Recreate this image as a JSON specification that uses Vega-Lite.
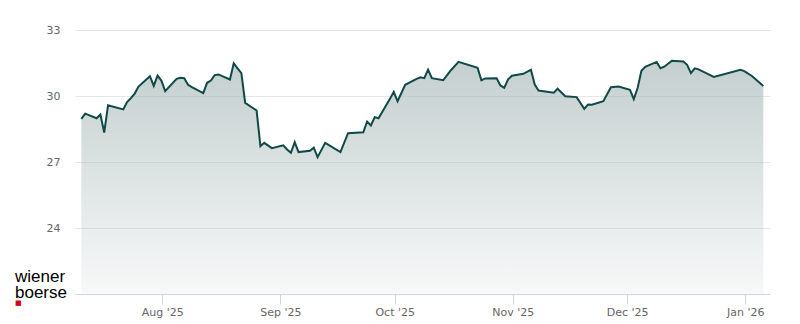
{
  "$schema": "https://vega.github.io/schema/vega-lite/v6.json",
  "width": 695,
  "height": 264,
  "autosize": {"type": "none"},
  "padding": {"left": 75, "top": 30, "right": 30, "bottom": 30},
  "background": "white",
  "config": {"view": {"stroke": null}, "font": "DejaVu Sans"},
  "title": {
    "text": ["wiener", "boerse"],
    "subtitle": "■",
    "orient": "bottom",
    "anchor": "start",
    "frame": "group",
    "dx": -60,
    "dy": 2,
    "offset": -50,
    "font": "Liberation Sans",
    "fontSize": 17,
    "fontWeight": "normal",
    "color": "#000000",
    "lineHeight": 16,
    "subtitleFont": "DejaVu Sans",
    "subtitleColor": "#d4001a",
    "subtitleFontSize": 7,
    "subtitlePadding": -3
  },
  "data": {
    "values": [
      {"date": "2025-07-10T18:00:00", "value": 28.96},
      {"date": "2025-07-11T18:00:00", "value": 29.20},
      {"date": "2025-07-14T18:00:00", "value": 28.99},
      {"date": "2025-07-15T18:00:00", "value": 29.16},
      {"date": "2025-07-16T18:00:00", "value": 28.34},
      {"date": "2025-07-17T18:00:00", "value": 29.58},
      {"date": "2025-07-21T18:00:00", "value": 29.39},
      {"date": "2025-07-22T18:00:00", "value": 29.72},
      {"date": "2025-07-23T18:00:00", "value": 29.90},
      {"date": "2025-07-24T18:00:00", "value": 30.11},
      {"date": "2025-07-25T18:00:00", "value": 30.43},
      {"date": "2025-07-28T18:00:00", "value": 30.90},
      {"date": "2025-07-29T18:00:00", "value": 30.46},
      {"date": "2025-07-30T18:00:00", "value": 30.93},
      {"date": "2025-07-31T18:00:00", "value": 30.70},
      {"date": "2025-08-01T18:00:00", "value": 30.22},
      {"date": "2025-08-04T18:00:00", "value": 30.78},
      {"date": "2025-08-05T18:00:00", "value": 30.83},
      {"date": "2025-08-06T18:00:00", "value": 30.81},
      {"date": "2025-08-07T18:00:00", "value": 30.51},
      {"date": "2025-08-08T18:00:00", "value": 30.40},
      {"date": "2025-08-11T18:00:00", "value": 30.13},
      {"date": "2025-08-12T18:00:00", "value": 30.60},
      {"date": "2025-08-13T18:00:00", "value": 30.70},
      {"date": "2025-08-14T18:00:00", "value": 30.95},
      {"date": "2025-08-15T18:00:00", "value": 30.98},
      {"date": "2025-08-18T18:00:00", "value": 30.75},
      {"date": "2025-08-19T18:00:00", "value": 31.49},
      {"date": "2025-08-20T18:00:00", "value": 31.26},
      {"date": "2025-08-21T18:00:00", "value": 31.04},
      {"date": "2025-08-22T18:00:00", "value": 29.69},
      {"date": "2025-08-25T18:00:00", "value": 29.34},
      {"date": "2025-08-26T18:00:00", "value": 27.72},
      {"date": "2025-08-27T18:00:00", "value": 27.87},
      {"date": "2025-08-29T18:00:00", "value": 27.63},
      {"date": "2025-09-01T18:00:00", "value": 27.76},
      {"date": "2025-09-02T18:00:00", "value": 27.57},
      {"date": "2025-09-03T18:00:00", "value": 27.42},
      {"date": "2025-09-04T18:00:00", "value": 27.90},
      {"date": "2025-09-05T18:00:00", "value": 27.45},
      {"date": "2025-09-08T18:00:00", "value": 27.51},
      {"date": "2025-09-09T18:00:00", "value": 27.65},
      {"date": "2025-09-10T18:00:00", "value": 27.22},
      {"date": "2025-09-12T18:00:00", "value": 27.87},
      {"date": "2025-09-16T18:00:00", "value": 27.45},
      {"date": "2025-09-18T18:00:00", "value": 28.31},
      {"date": "2025-09-22T18:00:00", "value": 28.35},
      {"date": "2025-09-23T18:00:00", "value": 28.84},
      {"date": "2025-09-24T18:00:00", "value": 28.66},
      {"date": "2025-09-25T18:00:00", "value": 29.04},
      {"date": "2025-09-26T18:00:00", "value": 28.99},
      {"date": "2025-09-29T18:00:00", "value": 29.87},
      {"date": "2025-09-30T18:00:00", "value": 30.19},
      {"date": "2025-10-01T18:00:00", "value": 29.76},
      {"date": "2025-10-03T18:00:00", "value": 30.51},
      {"date": "2025-10-06T18:00:00", "value": 30.78},
      {"date": "2025-10-07T18:00:00", "value": 30.85},
      {"date": "2025-10-08T18:00:00", "value": 30.81},
      {"date": "2025-10-09T18:00:00", "value": 31.20},
      {"date": "2025-10-10T18:00:00", "value": 30.81},
      {"date": "2025-10-13T18:00:00", "value": 30.72},
      {"date": "2025-10-15T18:00:00", "value": 31.17},
      {"date": "2025-10-17T18:00:00", "value": 31.55},
      {"date": "2025-10-22T18:00:00", "value": 31.28},
      {"date": "2025-10-23T18:00:00", "value": 30.71},
      {"date": "2025-10-24T18:00:00", "value": 30.80},
      {"date": "2025-10-27T18:00:00", "value": 30.81},
      {"date": "2025-10-28T18:00:00", "value": 30.48},
      {"date": "2025-10-29T18:00:00", "value": 30.37},
      {"date": "2025-10-30T18:00:00", "value": 30.76},
      {"date": "2025-10-31T18:00:00", "value": 30.92},
      {"date": "2025-11-03T18:00:00", "value": 31.01},
      {"date": "2025-11-05T18:00:00", "value": 31.19},
      {"date": "2025-11-06T18:00:00", "value": 30.52},
      {"date": "2025-11-07T18:00:00", "value": 30.25},
      {"date": "2025-11-11T18:00:00", "value": 30.15},
      {"date": "2025-11-12T18:00:00", "value": 30.33},
      {"date": "2025-11-14T18:00:00", "value": 29.99},
      {"date": "2025-11-17T18:00:00", "value": 29.95},
      {"date": "2025-11-19T18:00:00", "value": 29.42},
      {"date": "2025-11-20T18:00:00", "value": 29.61},
      {"date": "2025-11-21T18:00:00", "value": 29.60},
      {"date": "2025-11-24T18:00:00", "value": 29.76},
      {"date": "2025-11-26T18:00:00", "value": 30.40},
      {"date": "2025-11-28T18:00:00", "value": 30.43},
      {"date": "2025-12-01T18:00:00", "value": 30.28},
      {"date": "2025-12-02T18:00:00", "value": 29.86},
      {"date": "2025-12-03T18:00:00", "value": 30.36},
      {"date": "2025-12-04T18:00:00", "value": 31.15},
      {"date": "2025-12-05T18:00:00", "value": 31.33},
      {"date": "2025-12-08T18:00:00", "value": 31.55},
      {"date": "2025-12-09T18:00:00", "value": 31.26},
      {"date": "2025-12-10T18:00:00", "value": 31.33},
      {"date": "2025-12-12T18:00:00", "value": 31.60},
      {"date": "2025-12-15T18:00:00", "value": 31.57},
      {"date": "2025-12-16T18:00:00", "value": 31.42},
      {"date": "2025-12-17T18:00:00", "value": 31.04},
      {"date": "2025-12-18T18:00:00", "value": 31.26},
      {"date": "2025-12-19T18:00:00", "value": 31.21},
      {"date": "2025-12-23T18:00:00", "value": 30.87},
      {"date": "2025-12-30T18:00:00", "value": 31.19},
      {"date": "2025-12-31T18:00:00", "value": 31.13},
      {"date": "2026-01-02T18:00:00", "value": 30.91},
      {"date": "2026-01-05T18:00:00", "value": 30.45}
    ]
  },
  "mark": {
    "type": "area",
    "color": {
      "gradient": "linear",
      "x1": 0, "y1": 0, "x2": 0, "y2": 1,
      "stops": [
        {"offset": 0, "color": "rgba(170,186,185,1)"},
        {"offset": 1, "color": "rgba(170,186,185,0.13)"}
      ]
    },
    "line": {"color": "#0f4a48", "stroke": "#0f4a48", "strokeWidth": 2}
  },
  "encoding": {
    "x": {
      "field": "date",
      "type": "temporal",
      "scale": {
        "domain": [
          {"year": 2025, "month": "jul", "date": 9, "hours": 2},
          {"year": 2026, "month": "jan", "date": 7, "hours": 12}
        ]
      },
      "axis": {
        "title": null,
        "format": "%b '%y",
        "tickCount": {"interval": "month", "step": 1},
        "grid": false,
        "domainColor": "#ccd6eb",
        "tickColor": "#ccd6eb",
        "tickSize": 10,
        "labelColor": "#666666",
        "labelFontSize": 11,
        "labelPadding": 2,
        "labelFlush": false,
        "labelOverlap": false
      }
    },
    "y": {
      "field": "value",
      "type": "quantitative",
      "scale": {"domain": [21, 33], "zero": false},
      "axis": {
        "title": null,
        "values": [24, 27, 30, 33],
        "domain": false,
        "ticks": false,
        "gridColor": "#e6e6e6",
        "labelPadding": 15,
        "labelColor": "#666666",
        "labelFontSize": 11
      }
    },
    "y2": {"datum": 21}
  }
}
